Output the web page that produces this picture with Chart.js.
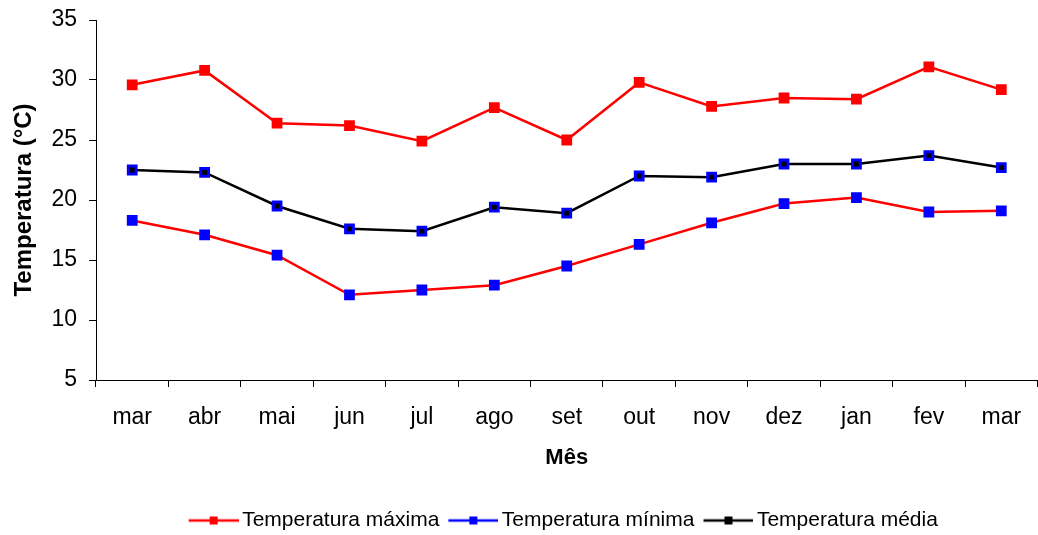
<!DOCTYPE html>
<html>
<head>
<meta charset="utf-8">
<script src="https://cdn.jsdelivr.net/npm/chart.js@4.4.1/dist/chart.umd.min.js"></script>
<style>
  html, body { margin: 0; padding: 0; background: #fff; overflow: hidden; }
  /* a few px wider than the window: the plot runs to the right edge */
  #wrap { width: 1046px; height: 535px; }
</style>
</head>
<body>
<div id="wrap"><canvas id="chart"></canvas></div>
<script>
// Temperatures by month (°C).
const months = ['mar', 'abr', 'mai', 'jun', 'jul', 'ago', 'set', 'out', 'nov', 'dez', 'jan', 'fev', 'mar'];
const tempMax = [29.6, 30.8, 26.4, 26.2, 24.9, 27.7, 25.0, 29.8, 27.8, 28.5, 28.4, 31.1, 29.2];
const tempMin = [18.3, 17.1, 15.4, 12.1, 12.5, 12.9, 14.5, 16.3, 18.1, 19.7, 20.2, 19.0, 19.1];
const tempMed = [22.5, 22.3, 19.5, 17.6, 17.4, 19.4, 18.9, 22.0, 21.9, 23.0, 23.0, 23.7, 22.7];
const yTicks = [5, 10, 15, 20, 25, 30, 35];

const FONT = "'Liberation Sans', Arial, sans-serif";

// Legend swatch: short line with a square marker in the middle.
// Left 12px are blank so the swatch sits a bit right of the item start.
function swatch(color) {
  const c = document.createElement('canvas');
  c.width = 62; c.height = 12;
  const g = c.getContext('2d');
  g.strokeStyle = color;
  g.lineWidth = 2.5;
  g.beginPath(); g.moveTo(12, 6); g.lineTo(62, 6); g.stroke();
  g.fillStyle = color;
  g.fillRect(33, 2, 8, 8);
  return c;
}
const legendIcons = [swatch('#ff0000'), swatch('#0000ff'), swatch('#000000')];

// The legend sits (roughly) centred under the plot area, not the whole canvas.
const legendShift = {
  id: 'legendShift',
  afterLayout(chart) {
    const lg = chart.legend;
    const d = (chart.chartArea.left + chart.chartArea.right) / 2 - (lg.left + lg.right) / 2 - 6;
    lg.left += d;
    lg.right += d;
  },
};

new Chart(document.getElementById('chart'), {
  type: 'line',
  data: {
    labels: months,
    datasets: [
      { label: 'Temperatura máxima', data: tempMax, borderColor: '#ff0000', backgroundColor: '#ff0000',
        pointBackgroundColor: '#ff0000', pointBorderColor: '#ff0000' },
      { label: 'Temperatura mínima', data: tempMin, borderColor: '#ff0000', backgroundColor: '#0000ff',
        pointBackgroundColor: '#0000ff', pointBorderColor: '#0000ff' },
      { label: 'Temperatura média', data: tempMed, borderColor: '#000000', backgroundColor: '#000000',
        pointBackgroundColor: '#000000', pointBorderColor: '#0000ff' },
    ].map(d => Object.assign(d, {
      borderWidth: 2.5, tension: 0, pointStyle: 'rect', pointRadius: 5.5,
      pointBorderWidth: 3, pointHoverRadius: 5.5,
    })),
  },
  plugins: [legendShift],
  options: {
    responsive: true,
    maintainAspectRatio: false,
    animation: false,
    layout: { padding: { top: 20, right: 0, left: 0, bottom: -6 } },
    plugins: {
      tooltip: { enabled: false },
      legend: {
        position: 'bottom',
        labels: {
          color: '#000',
          font: { family: FONT, size: 21 },
          usePointStyle: true,
          pointStyleWidth: 48,
          boxHeight: 12,
          padding: 4,
          generateLabels: chart => chart.data.datasets.map((d, i) => ({
            text: d.label,
            pointStyle: legendIcons[i],
            fillStyle: 'transparent',
            strokeStyle: 'transparent',
            lineWidth: 0,
            fontColor: '#000',
            datasetIndex: i,
          })),
        },
      },
    },
    scales: {
      x: {
        offset: true,
        grid: { display: true, drawOnChartArea: false, offset: true, drawTicks: true, tickLength: 7, color: '#000' },
        border: { display: true, color: '#000', width: 1 },
        ticks: { color: '#000', font: { family: FONT, size: 23 }, padding: 17, maxRotation: 0, autoSkip: false },
        title: { display: true, text: 'Mês', color: '#000', font: { family: FONT, size: 22, weight: 'bold' }, padding: { top: 0, bottom: 35 } },
        afterFit: s => { s.height = 126; s.paddingLeft = 0; s.paddingRight = 0; },
      },
      y: {
        min: 5, max: 35,
        afterBuildTicks: s => { s.ticks = yTicks.map(v => ({ value: v })); },
        grid: { display: true, drawOnChartArea: false, drawTicks: true, tickLength: 7, color: '#000' },
        border: { display: true, color: '#000', width: 1 },
        ticks: { color: '#000', font: { family: FONT, size: 23 }, padding: 12 },
        title: { display: true, text: 'Temperatura (°C)', color: '#000', font: { family: FONT, size: 24, weight: 'bold' }, padding: { top: 10, bottom: 0 } },
        afterFit: s => { s.width = 96; s.paddingTop = 0; s.paddingBottom = 0; },
      },
    },
  },
});
</script>
</body>
</html>
